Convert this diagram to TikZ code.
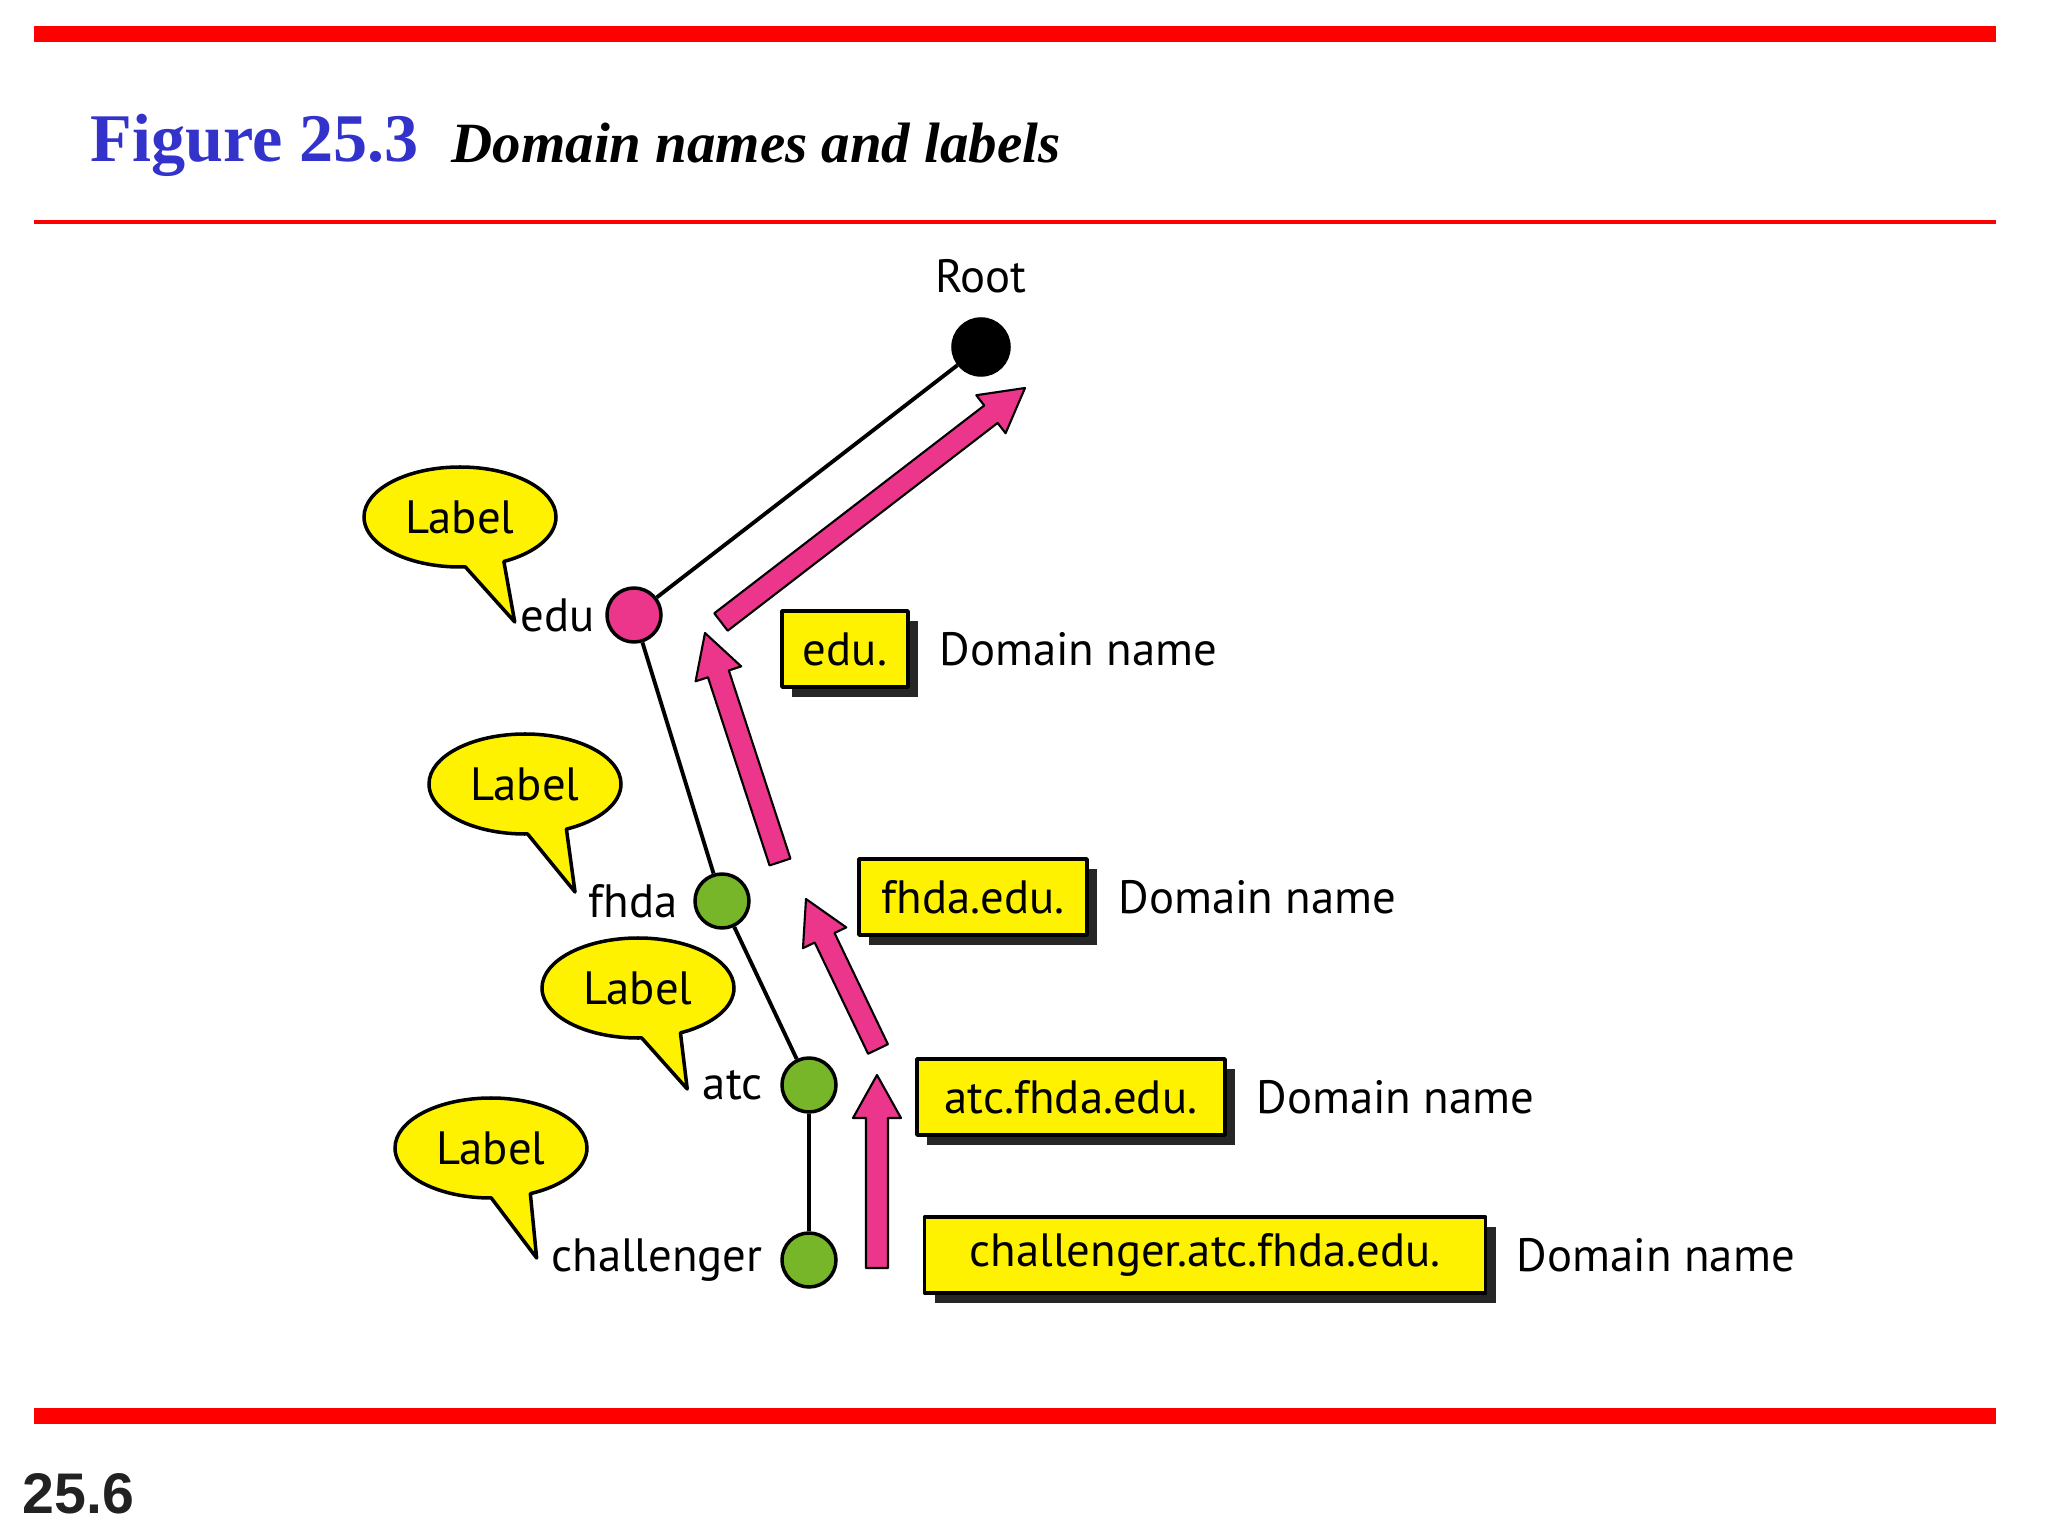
\documentclass[tikz,border=0pt]{standalone}
\usepackage{fontspec}
\setmainfont{Liberation Serif}
\newfontfamily\diagfont{PT Sans}
\newfontfamily\pagefont{Liberation Sans}
\usetikzlibrary{positioning,calc,shapes.callouts,shadows}

\definecolor{figblue}{RGB}{51,51,204}
\definecolor{hotpink}{RGB}{236,54,140}
\definecolor{leafgreen}{RGB}{118,182,40}
\definecolor{pagegray}{RGB}{34,34,34}

% block arrow from #1 (tail) to #2 (tip)
\newcommand{\fatarrow}[2]{%
  \coordinate (hb) at ($(#2)!0.43cm!(#1)$);
  \filldraw[pinkarrow] ($(#1)!0.11cm!90:(#2)$) -- ($(hb)!0.11cm!90:(#2)$) -- ($(hb)!0.24cm!90:(#2)$) -- (#2)
    -- ($(hb)!0.24cm!-90:(#2)$) -- ($(hb)!0.11cm!-90:(#2)$) -- ($(#1)!0.11cm!-90:(#2)$) -- cycle;}

\begin{document}
\begin{tikzpicture}[x=1cm, y=-1cm, line join=round, font=\diagfont\fontsize{13.3}{16}\selectfont,
    dot/.style={circle, draw, line width=1pt, minimum size=0.54cm, inner sep=0pt},
    edge/.style={line width=1.1pt},
    treelbl/.style={inner sep=0pt},
    bubble/.style={ellipse callout, draw, fill=yellow, line width=1pt, minimum width=1.92cm, minimum height=1cm, inner sep=0pt, callout pointer arc=24},
    dombox/.style={draw, fill=yellow, line width=1pt, minimum height=0.76cm, inner sep=0pt,
      drop shadow={shadow xshift=0.1cm, shadow yshift=-0.1cm, fill=black!85, opacity=1}},
    domtxt/.style={inner sep=0pt},
    pinkarrow/.style={fill=hotpink, draw=black, line width=0.6pt}]
  \useasboundingbox (0,0) rectangle (20.48,15.36);
  % Red rules
  \fill[red] (0.34,0.26) rectangle (19.96,0.42);
  \fill[red] (0.34,2.20) rectangle (19.96,2.24);
  \fill[red] (0.34,14.08) rectangle (19.96,14.24);
  % Title
  \node[anchor=base west, inner sep=0pt, text=figblue, font=\rmfamily\bfseries\fontsize{19.4}{22}\selectfont] (fignum) at (0.90,1.62) {Figure 25.3};
  \node[anchor=base west, inner sep=0pt, font=\rmfamily\bfseries\itshape\fontsize{16.2}{19}\selectfont] (figtitle) at (4.51,1.63) {Domain names and labels};
  \node[anchor=base west, inner sep=0pt, text=pagegray, font=\pagefont\bfseries\fontsize{16.3}{19}\selectfont] (pagenum) at (0.22,15.13) {25.6};
  % Tree
  \node[dot, fill=black, minimum size=0.56cm] (root) at (9.81,3.47) {};
  \node[dot, fill=hotpink] (edu) at (6.34,6.15) {};
  \node[dot, fill=leafgreen] (fhda) at (7.22,9.01) {};
  \node[dot, fill=leafgreen] (atc) at (8.09,10.85) {};
  \node[dot, fill=leafgreen] (chal) at (8.09,12.60) {};
  \draw[edge] (edu) -- (root) (edu) -- (fhda) (fhda) -- (atc) (atc) -- (chal);
  \node[treelbl, above=2.3mm of root] (rootlbl) {Root};
  \node[treelbl, left=1mm of edu] (edulbl) {edu};
  \node[treelbl, left=1.5mm of fhda] (fhdalbl) {fhda};
  \node[treelbl, left=1.7mm of atc] (atclbl) {atc};
  \node[treelbl, left=1.7mm of chal] (challbl) {challenger};
  % Speech bubbles
  \node[bubble, callout absolute pointer={($(edulbl.west)+(-0.05,0.07)$)}] (bubedu) at (4.60,5.17) {Label};
  \node[bubble, callout absolute pointer={($(fhdalbl.west)+(-0.13,-0.09)$)}] (bubfhda) at (5.25,7.84) {Label};
  \node[bubble, callout absolute pointer={($(atclbl.west)+(-0.15,0.04)$)}] (bubatc) at (6.38,9.88) {Label};
  \node[bubble, callout absolute pointer={($(challbl.west)+(-0.14,-0.02)$)}] (bubchal) at (4.91,11.48) {Label};
  % Pink arrows
  \coordinate (a1t) at (7.21,6.22);  \coordinate (a1h) at (10.25,3.88);
  \coordinate (a2t) at (7.80,8.62);  \coordinate (a2h) at (7.05,6.33);
  \coordinate (a3t) at (8.78,10.49); \coordinate (a3h) at (8.06,8.99);
  \coordinate (a4t) at (8.77,12.68); \coordinate (a4h) at (8.77,10.75);
  \fatarrow{a1t}{a1h}
  \fatarrow{a2t}{a2h}
  \fatarrow{a3t}{a3h}
  \fatarrow{a4t}{a4h}
  % Domain name boxes
  \node[dombox, minimum width=1.26cm] (dedu) at (8.45,6.49) {edu.};
  \node[dombox, minimum width=2.28cm] (dfhda) at (9.73,8.97) {fhda.edu.};
  \node[dombox, minimum width=3.08cm] (datc) at (10.71,10.97) {atc.fhda.edu.};
  \node[dombox, minimum width=5.61cm] (dchal) at (12.05,12.55) {challenger.atc.fhda.edu.};
  \node[domtxt, right=2.9mm of dedu] (nedu) {Domain name};
  \node[domtxt, right=2.9mm of dfhda] (nfhda) {Domain name};
  \node[domtxt, right=2.9mm of datc] (natc) {Domain name};
  \node[domtxt, right=2.9mm of dchal] (nchal) {Domain name};
\end{tikzpicture}
\end{document}
